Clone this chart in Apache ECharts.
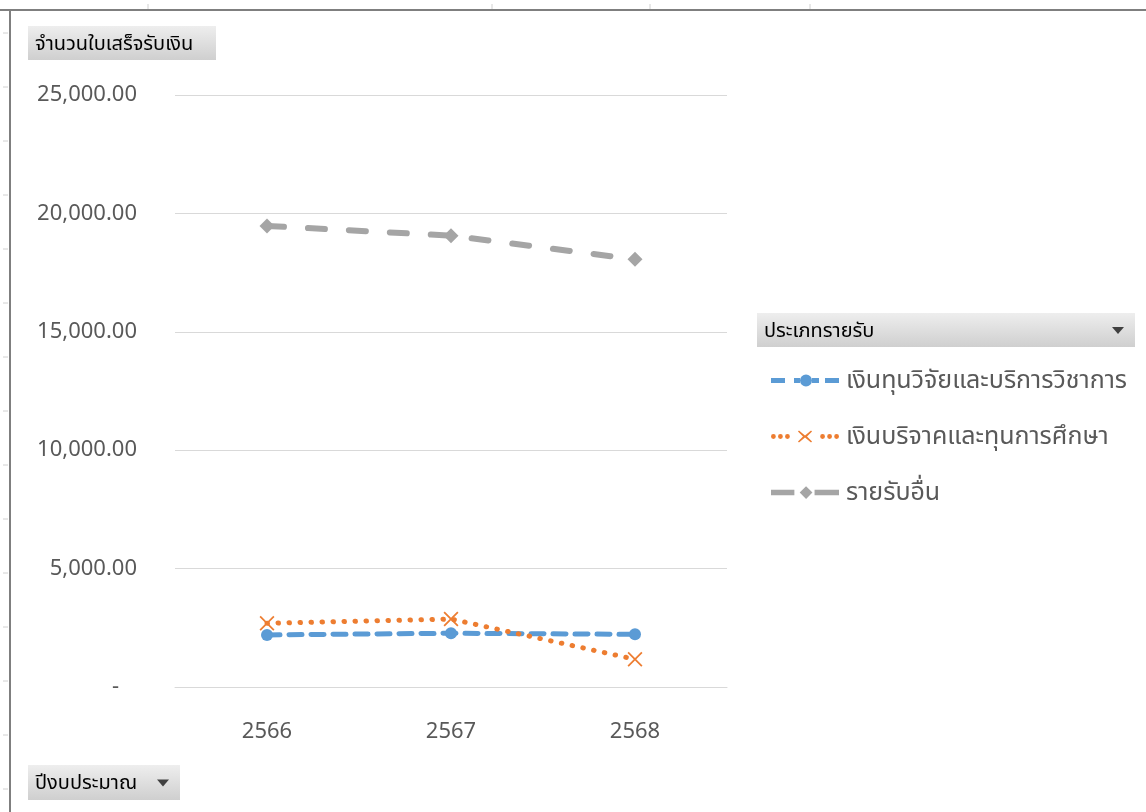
<!DOCTYPE html>
<html>
<head>
<meta charset="utf-8">
<script src="https://cdn.jsdelivr.net/npm/echarts@6/dist/echarts.min.js"></script>
<style>
  html, body { margin: 0; padding: 0; background: #ffffff; }
  #chart { width: 1146px; height: 812px; }
</style>
</head>
<body>
<div id="chart"></div>
<script>
// Fiscal years (Thai Buddhist calendar)
const years = ['2566', '2567', '2568'];

// Number of receipts per income type
const researchServices = [2200, 2270, 2225];    // เงินทุนวิจัยและบริการวิชาการ
const donations        = [2690, 2870, 1170];    // เงินบริจาคและทุนการศึกษา
const otherIncome      = [19470, 19060, 18060]; // รายรับอื่น

const seriesNames = [
  'เงินทุนวิจัยและบริการวิชาการ',
  'เงินบริจาคและทุนการศึกษา',
  'รายรับอื่น'
];

const yMin = 0, yMax = 25000, yStep = 5000;

const FONT = '"Noto Sans", "Noto Sans Thai", "Open Sans", Tahoma, sans-serif';
const GREY_TEXT = '#595959';

// Cross marker drawn as a filled outline
const crossPath = 'path://M1,0 L6,5 L11,0 L12,1 L7,6 L12,11 L11,12 L6,7 L1,12 L0,11 L5,6 L0,1 Z';

// Legend keys: dash / dot pattern with the series marker in the middle
function dot(cx, cy, r) {
  return 'M' + (cx + r) + ',' + cy + 'A' + r + ',' + r + ' 0 1 1 ' + (cx - r) + ',' + cy +
         'A' + r + ',' + r + ' 0 1 1 ' + (cx + r) + ',' + cy + 'Z';
}
const keyDashCircle = 'path://' +
  'M0,5H14V10H0Z M23,5H29V10H23Z ' + dot(35, 7.5, 6) + ' M41,5H48V10H41Z M54,5H68V10H54Z';
const keyDotsCross = 'path://' +
  dot(2.5, 7, 2.4) + dot(9.5, 7, 2.4) + dot(16.5, 7, 2.4) +
  'M28,1 L34,6 L40,1 L41,2 L36,7 L41,12 L40,13 L34,8 L28,13 L27,12 L32,7 L27,2 Z' +
  dot(51.5, 7, 2.4) + dot(58.5, 7, 2.4) + dot(65.5, 7, 2.4);
const keyDashDiamond = 'path://' +
  'M0,4.5H22V9.5H0Z M27,7 L33,1 L39,7 L33,13 Z M41,4.5H64V9.5H41Z';

function fmtAccounting(v) {
  if (v === 0) return '{dash|-}';
  return v.toLocaleString('en-US', { minimumFractionDigits: 2, maximumFractionDigits: 2 });
}

// Grey pivot-field button
function fieldButton(x, y, w, h, label, withArrow) {
  const children = [
    {
      type: 'rect',
      shape: { x: 0, y: 0, width: w, height: h },
      style: {
        fill: new echarts.graphic.LinearGradient(0, 0, 0, 1, [
          { offset: 0, color: '#eeeeee' },
          { offset: 1, color: '#cfcfcf' }
        ])
      }
    },
    {
      type: 'text',
      style: {
        x: 7, y: h / 2 + 1,
        text: label,
        fill: '#000000',
        font: '20px ' + FONT,
        verticalAlign: 'middle'
      }
    }
  ];
  if (withArrow) {
    children.push({
      type: 'polygon',
      shape: { points: [[w - 23, h / 2 - 3], [w - 11, h / 2 - 3], [w - 17, h / 2 + 4]] },
      style: { fill: '#404040' }
    });
  }
  return { type: 'group', x: x, y: y, children: children };
}

// Sheet column / row marks around the chart frame
const sheetMarks = [];
[148, 492, 650, 810].forEach(function (x) {
  sheetMarks.push({ type: 'line', shape: { x1: x, y1: 4, x2: x, y2: 9 }, style: { stroke: '#d0d0d0', lineWidth: 1 } });
});
for (let y = 33; y < 812; y += 54) {
  sheetMarks.push({ type: 'line', shape: { x1: 3, y1: y, x2: 8, y2: y }, style: { stroke: '#d0d0d0', lineWidth: 1 } });
}

const chart = echarts.init(document.getElementById('chart'), null, { renderer: 'canvas' });

chart.setOption({
  backgroundColor: '#ffffff',
  animation: false,
  textStyle: { fontFamily: FONT },
  grid: { left: 175, right: 419, top: 95, bottom: 125, containLabel: false },
  xAxis: {
    type: 'category',
    data: years,
    boundaryGap: true,
    axisLine: { show: true, lineStyle: { color: '#d9d9d9', width: 1 } },
    axisTick: { show: false },
    axisLabel: { color: GREY_TEXT, fontSize: 22, margin: 34, fontFamily: FONT }
  },
  yAxis: {
    type: 'value',
    min: yMin, max: yMax, interval: yStep,
    axisLine: { show: false },
    axisTick: { show: false },
    splitLine: { show: true, lineStyle: { color: '#d9d9d9', width: 1 } },
    axisLabel: {
      color: GREY_TEXT, fontSize: 22, margin: 38, fontFamily: FONT,
      formatter: fmtAccounting,
      rich: { dash: { color: GREY_TEXT, fontSize: 22, padding: [0, 18, 0, 0] } }
    }
  },
  legend: {
    orient: 'vertical',
    left: 766, top: 363,
    itemWidth: 68, itemHeight: 14,
    itemGap: 31,
    symbolKeepAspect: true,
    textStyle: { color: GREY_TEXT, fontSize: 25, fontFamily: FONT, padding: [0, 0, 0, 2] },
    data: [
      { name: seriesNames[0], icon: keyDashCircle },
      { name: seriesNames[1], icon: keyDotsCross },
      { name: seriesNames[2], icon: keyDashDiamond }
    ]
  },
  series: [
    {
      name: seriesNames[0],
      type: 'line',
      data: researchServices,
      symbol: 'circle', symbolSize: 12,
      itemStyle: { color: '#5B9BD5', borderWidth: 0 },
      lineStyle: { color: '#5B9BD5', width: 5, type: [13, 9], cap: 'round' },
      z: 3
    },
    {
      name: seriesNames[1],
      type: 'line',
      data: donations,
      symbol: crossPath, symbolSize: 15,
      itemStyle: { color: '#ED7D31', borderWidth: 0 },
      lineStyle: { color: '#ED7D31', width: 5, type: [0.5, 10.5], cap: 'round' },
      z: 4
    },
    {
      name: seriesNames[2],
      type: 'line',
      data: otherIncome,
      symbol: 'diamond', symbolSize: 15,
      itemStyle: { color: '#A5A5A5', borderWidth: 0 },
      lineStyle: { color: '#A5A5A5', width: 6, type: [17, 24], cap: 'round' },
      z: 2
    }
  ],
  graphic: [
    // sheet frame
    { type: 'line', shape: { x1: 0, y1: 10, x2: 1146, y2: 10 }, style: { stroke: '#7f7f7f', lineWidth: 2 } },
    { type: 'line', shape: { x1: 10, y1: 10, x2: 10, y2: 812 }, style: { stroke: '#7f7f7f', lineWidth: 2 } },
    ...sheetMarks,
    fieldButton(28, 26, 188, 34, 'จำนวนใบเสร็จรับเงิน', false),
    fieldButton(757, 313, 378, 34, 'ประเภทรายรับ', true),
    fieldButton(28, 765, 152, 35, 'ปีงบประมาณ', true)
  ]
});
</script>
</body>
</html>
